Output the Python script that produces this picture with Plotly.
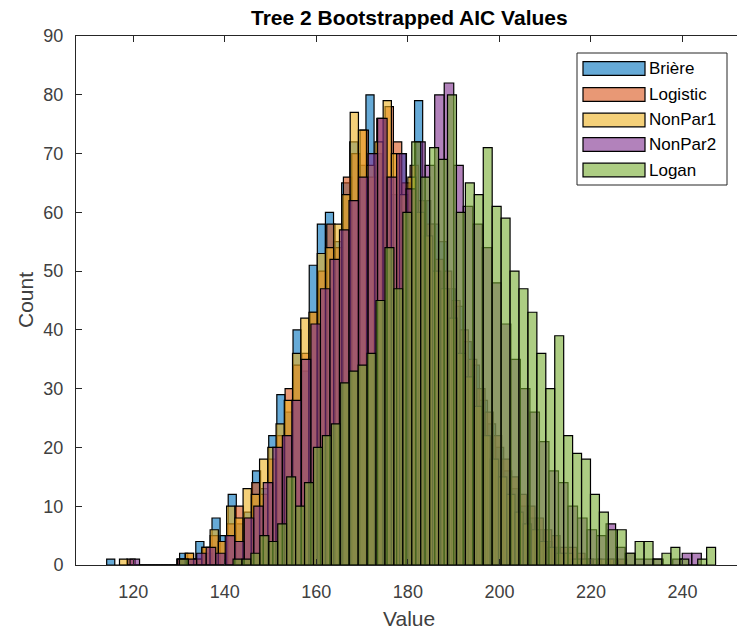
import numpy as np
import plotly.graph_objects as go

# ---- histogram data: 60 bins per model, each with its own bin start / width ----
labels = ["Brière", "Logistic", "NonPar1", "NonPar2", "Logan"]

briere_start, briere_width = 114.2, 1.77
briere_counts = [1, 0, 0, 0, 0, 0, 0, 0, 0, 2, 1, 4, 2, 8, 5, 12, 7, 9, 16, 13,
                 22, 29, 26, 40, 33, 51, 58, 60, 55, 65, 72, 68, 80, 70, 66, 63, 70, 64, 79, 62,
                 58, 55, 47, 44, 38, 34, 28, 24, 20, 16, 13, 10, 8, 6, 4, 3, 2, 1, 1, 1]

logistic_start, logistic_width = 118.6, 1.82
logistic_counts = [1, 0, 0, 0, 0, 0, 1, 2, 1, 3, 5, 4, 7, 10, 8, 14, 12, 18, 22, 30,
                   34, 36, 43, 50, 58, 54, 66, 70, 74, 66, 76, 78, 72, 65, 68, 62, 58, 52, 50, 45,
                   40, 35, 30, 26, 22, 18, 15, 12, 10, 8, 6, 5, 3, 3, 2, 1, 1, 0, 1, 1]

nonpar1_start, nonpar1_width = 117.0, 1.80
nonpar1_counts = [1, 0, 0, 0, 0, 0, 0, 1, 2, 1, 3, 6, 4, 10, 8, 13, 12, 18, 20, 24,
                  28, 36, 42, 43, 53, 54, 58, 63, 77, 74, 68, 72, 79, 70, 63, 66, 60, 56, 50, 47,
                  42, 36, 32, 27, 22, 18, 15, 12, 9, 7, 6, 4, 3, 2, 2, 1, 1, 0, 1, 1]

nonpar2_start, nonpar2_width = 119.3, 2.08
nonpar2_counts = [1, 0, 0, 0, 0, 1, 1, 2, 3, 2, 5, 4, 8, 10, 14, 20, 22, 28, 35, 41,
                  47, 52, 57, 62, 66, 70, 76, 66, 70, 64, 72, 68, 80, 82, 68, 61, 58, 54, 48, 41,
                  35, 30, 26, 21, 16, 14, 10, 8, 6, 5, 7, 3, 2, 1, 1, 1, 0, 1, 2, 2]

logan_start, logan_width = 130.1, 1.952
logan_counts = [1, 0, 0, 0, 0, 0, 1, 1, 2, 5, 4, 7, 15, 10, 14, 20, 22, 24, 31, 33,
                34, 36, 45, 54, 47, 60, 72, 66, 71, 69, 80, 60, 65, 63, 71, 61, 59, 50, 47, 43,
                36, 30, 39, 22, 19, 18, 12, 9, 6, 6, 2, 4, 4, 1, 2, 3, 1, 0, 1, 3]

starts = [briere_start, logistic_start, nonpar1_start, nonpar2_start, logan_start]
widths = [briere_width, logistic_width, nonpar1_width, nonpar2_width, logan_width]
counts = [briere_counts, logistic_counts, nonpar1_counts, nonpar2_counts, logan_counts]

face_colors = ["rgba(0,114,189,0.6)", "rgba(217,83,25,0.6)", "rgba(237,177,32,0.6)",
               "rgba(126,47,142,0.6)", "rgba(119,172,48,0.6)"]

x_ticks = [120, 140, 160, 180, 200, 220, 240]
y_ticks = [0, 10, 20, 30, 40, 50, 60, 70, 80, 90]

# ---- figure geometry (pixels) ----
W, H = 737, 631
ML, MR, MT, MB = 76, 0, 36, 66
PW, PH = W - ML - MR, H - MT - MB

def px_x(px):
    return (px - ML) / PW

def px_y(py):
    return (H - MB - py) / PH

FONT = "Liberation Sans, Arial, Helvetica, sans-serif"
AX_COLOR = "#262626"

fig = go.Figure()
for name, s, w, c, col in zip(labels, starts, widths, counts, face_colors):
    centers = s + w * (np.arange(len(c)) + 0.5)
    fig.add_trace(go.Bar(
        x=centers, y=c, width=w, name=name,
        marker=dict(color=col, line=dict(color="black", width=1.2)),
        showlegend=False,
    ))

fig.update_layout(
    width=W, height=H,
    margin=dict(l=ML, r=MR, t=MT, b=MB),
    barmode="overlay",
    paper_bgcolor="white", plot_bgcolor="white",
    font=dict(family=FONT, color=AX_COLOR),
)

fig.update_xaxes(
    range=[107.5, 251.9], tickvals=x_ticks, ticks="inside", ticklen=6,
    tickcolor=AX_COLOR, showline=True, linecolor=AX_COLOR, linewidth=1,
    mirror="ticks", showgrid=False, zeroline=False,
    tickfont=dict(size=18, color="#404040"), ticklabelstandoff=10,
)
fig.update_yaxes(
    range=[0, 90], tickvals=y_ticks, ticks="inside", ticklen=6,
    tickcolor=AX_COLOR, showline=True, linecolor=AX_COLOR, linewidth=1,
    mirror=False, showgrid=False, zeroline=False,
    tickfont=dict(size=18, color="#404040"), ticklabelstandoff=8,
)

annotations = [
    dict(text="<b>Tree 2 Bootstrapped AIC Values</b>", x=px_x(409), y=px_y(17),
         xref="paper", yref="paper", showarrow=False, xanchor="center", yanchor="middle",
         font=dict(size=21, color="black", family=FONT)),
    dict(text="Value", x=px_x(409), y=px_y(618), xref="paper", yref="paper",
         showarrow=False, xanchor="center", yanchor="middle",
         font=dict(size=21, color="#404040", family=FONT)),
    dict(text="Count", x=px_x(25), y=px_y(300), xref="paper", yref="paper",
         showarrow=False, xanchor="center", yanchor="middle", textangle=-90,
         font=dict(size=21, color="#404040", family=FONT)),
]

# ---- legend box drawn by hand (wide swatches) ----
shapes = [dict(type="rect", xref="paper", yref="paper",
               x0=px_x(577), x1=px_x(727), y0=px_y(53), y1=px_y(185),
               line=dict(color=AX_COLOR, width=1), fillcolor="white", layer="above")]
row_y = [68.5, 94.5, 120, 144.5, 170]
for name, col, ry in zip(labels, face_colors, row_y):
    shapes.append(dict(type="rect", xref="paper", yref="paper",
                       x0=px_x(583), x1=px_x(645), y0=px_y(ry - 6.8), y1=px_y(ry + 6.8),
                       line=dict(color="black", width=1.2), fillcolor=col, layer="above"))
    annotations.append(dict(text=name, x=px_x(647), y=px_y(ry), xref="paper", yref="paper",
                            showarrow=False, xanchor="left", yanchor="middle",
                            font=dict(size=17, color="black", family=FONT)))

fig.update_layout(shapes=shapes, annotations=annotations)

fig.write_html("out.html")
